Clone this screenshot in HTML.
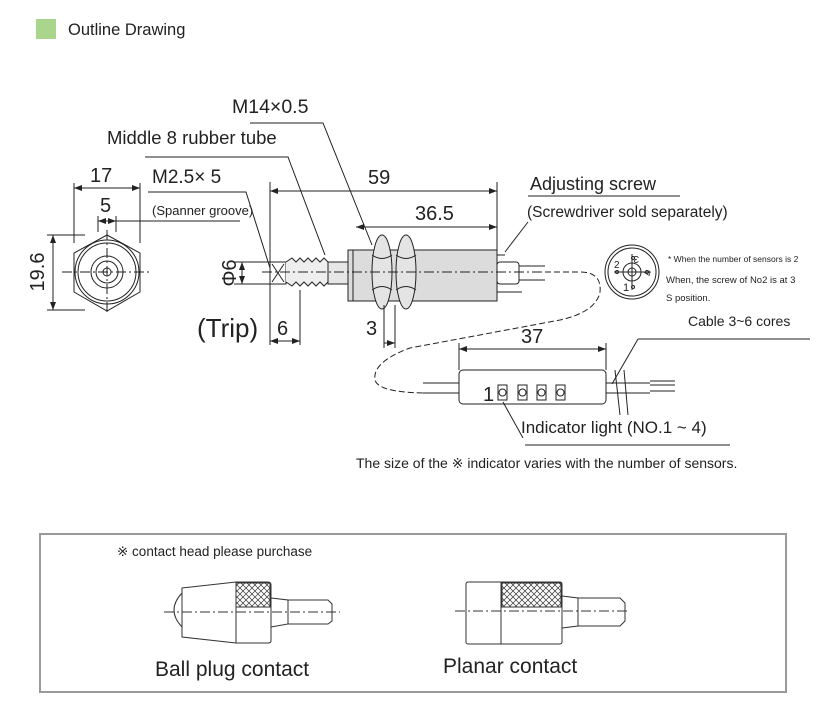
<!DOCTYPE html>
<html><head><meta charset="utf-8"><style>
html,body{margin:0;padding:0;background:#fff;}
svg{display:block;}
text{font-family:"Liberation Sans",sans-serif;fill:#222;}
</style></head><body>
<svg width="820" height="721" viewBox="0 0 820 721" xmlns="http://www.w3.org/2000/svg">
<defs>
<marker id="a" markerWidth="8" markerHeight="6" refX="8" refY="3" orient="auto-start-reverse"><path d="M0,0 L8,3 L0,6z" fill="#222"/></marker>
<pattern id="kn" width="6" height="6" patternUnits="userSpaceOnUse"><path d="M0,0L6,6M6,0L0,6" stroke="#333" stroke-width="0.7"/></pattern>
</defs>
<rect x="36" y="19" width="20" height="20" fill="#a9d68c"/>
<text x="68" y="35" font-size="16.5">Outline Drawing</text>

<g stroke="#222" stroke-width="1" fill="none">
<polyline points="250,123 323,123 372,245"/>
<polyline points="145,157 288,157 325,255"/>
<polyline points="148,192 246,192 270,268"/>
<line x1="112" y1="221" x2="240" y2="221"/>
<polyline points="528,196 680,196"/>
<line x1="528" y1="222" x2="505" y2="252"/>
<line x1="74" y1="183" x2="74" y2="243"/><line x1="140" y1="183" x2="140" y2="243"/>
<line x1="74" y1="188" x2="140" y2="188" marker-start="url(#a)" marker-end="url(#a)"/>
<line x1="98" y1="216" x2="98" y2="232"/><line x1="116" y1="216" x2="116" y2="232"/>
<line x1="98" y1="221" x2="116" y2="221" marker-start="url(#a)" marker-end="url(#a)"/>
<polygon points="107,235 140,253 140,292 107,311 74,292 74,253"/>
<circle cx="107" cy="272" r="32"/><circle cx="107" cy="272" r="29"/>
<circle cx="107" cy="272" r="16"/><circle cx="107" cy="272" r="11"/><circle cx="107" cy="272" r="4"/>
<line x1="62" y1="272" x2="152" y2="272" stroke-dasharray="10,3,2,3"/>
<line x1="107" y1="230" x2="107" y2="315" stroke-dasharray="10,3,2,3"/>
<line x1="47" y1="235" x2="85" y2="235"/><line x1="47" y1="310" x2="85" y2="310"/>
<line x1="53" y1="235" x2="53" y2="310" marker-start="url(#a)" marker-end="url(#a)"/>
<line x1="270" y1="182" x2="270" y2="345"/>
<line x1="497" y1="182" x2="497" y2="250"/>
<line x1="270" y1="191" x2="497" y2="191" marker-start="url(#a)" marker-end="url(#a)"/>
<line x1="356" y1="227" x2="497" y2="227" marker-start="url(#a)" marker-end="url(#a)"/>
<rect x="270" y="262" width="16" height="22"/>
<path d="M272,264 L284,282 M284,264 L272,282"/>
<path d="M286,262 L292,258 L296,262 L300,258 L304,262 L308,258 L312,262 L316,258 L320,262 L324,258 L328,262 L328,282 L324,286 L320,282 L316,286 L312,282 L308,286 L304,282 L300,286 L296,282 L292,286 L286,282" fill="#eee"/>
<rect x="328" y="262" width="20" height="22" fill="#e6e6e6"/>
<rect x="348" y="250" width="149" height="51" fill="#dcdcdc"/>
<line x1="353" y1="250" x2="353" y2="301"/>
<ellipse cx="382" cy="272" rx="10" ry="37" fill="#e4e4e4"/>
<ellipse cx="406" cy="272" rx="10" ry="37" fill="#e4e4e4"/>
<path d="M372,255 Q382,262 392,255 M372,290 Q382,283 392,290 M396,255 Q406,262 416,255 M396,290 Q406,283 416,290"/>
<rect x="497" y="262" width="22" height="22" rx="3" fill="#fff"/>
<line x1="497" y1="255" x2="505" y2="255"/><line x1="497" y1="292" x2="522" y2="292"/>
<line x1="519" y1="266" x2="545" y2="266"/><line x1="519" y1="280" x2="545" y2="280"/>
<line x1="262" y1="272" x2="545" y2="272" stroke-dasharray="10,3,2,3"/>
<line x1="234" y1="262" x2="270" y2="262"/><line x1="234" y1="284" x2="270" y2="284"/>
<line x1="242" y1="262" x2="242" y2="284" marker-start="url(#a)" marker-end="url(#a)"/>
<line x1="300" y1="290" x2="300" y2="345"/>
<line x1="270" y1="341" x2="300" y2="341" marker-start="url(#a)" marker-end="url(#a)"/>
<line x1="384" y1="305" x2="384" y2="348"/><line x1="395" y1="305" x2="395" y2="348"/>
<line x1="384" y1="343" x2="395" y2="343" marker-end="url(#a)"/>
<path d="M545,272 L580,272 Q602,272 600,292 Q596,312 560,320 L410,348 Q372,362 375,380 Q378,392 423,393" stroke-dasharray="6,3"/>
<circle cx="632" cy="272" r="27"/><circle cx="632" cy="272" r="24"/>
<circle cx="632" cy="272" r="9"/><circle cx="632" cy="272" r="4"/>
<line x1="632" y1="254" x2="632" y2="290"/><line x1="614" y1="272" x2="650" y2="272"/>
<circle cx="633" cy="258" r="1.5"/><circle cx="617" cy="272" r="1.5"/><circle cx="647" cy="272" r="1.5"/><circle cx="633" cy="287" r="1.5"/>
<polyline points="638,339 810,339"/>
<line x1="638" y1="339" x2="612" y2="384"/>
<line x1="459" y1="343" x2="459" y2="370"/><line x1="606" y1="343" x2="606" y2="370"/>
<line x1="459" y1="349" x2="606" y2="349" marker-start="url(#a)" marker-end="url(#a)"/>
<rect x="459" y="370" width="147" height="34" rx="4"/>
<line x1="423" y1="383" x2="459" y2="383"/><line x1="423" y1="393" x2="459" y2="393"/>
<line x1="606" y1="383" x2="650" y2="383"/><line x1="606" y1="393" x2="650" y2="393"/>
<line x1="650" y1="381" x2="675" y2="381"/><line x1="650" y1="385" x2="675" y2="385"/><line x1="650" y1="391" x2="675" y2="391"/>
<line x1="615" y1="370" x2="620" y2="415"/><line x1="624" y1="370" x2="628" y2="415"/>
<rect x="498" y="385" width="9" height="15"/><circle cx="502.5" cy="392.5" r="3.5"/>
<rect x="518" y="385" width="9" height="15"/><circle cx="522.5" cy="392.5" r="3.5"/>
<rect x="537" y="385" width="9" height="15"/><circle cx="541.5" cy="392.5" r="3.5"/>
<rect x="556" y="385" width="9" height="15"/><circle cx="560.5" cy="392.5" r="3.5"/>
<line x1="503" y1="402" x2="523" y2="438"/>
<line x1="525" y1="445" x2="730" y2="445"/>
</g>

<text x="232" y="113" font-size="19.5">M14×0.5</text>
<text x="107" y="144" font-size="18.5">Middle 8 rubber tube</text>
<text x="152" y="183" font-size="19">M2.5× 5</text>
<text x="152" y="215" font-size="13">(Spanner groove)</text>
<text x="90" y="182" font-size="20">17</text>
<text x="100" y="212" font-size="20">5</text>
<text x="44" y="272" font-size="20" transform="rotate(-90 44 272)" text-anchor="middle">19.6</text>
<text x="236" y="273" font-size="20" transform="rotate(-90 236 273)" text-anchor="middle">Φ6</text>
<text x="368" y="184" font-size="20">59</text>
<text x="415" y="220" font-size="20">36.5</text>
<text x="197" y="337" font-size="26">(Trip)</text>
<text x="277" y="335" font-size="20">6</text>
<text x="366" y="335" font-size="20">3</text>
<text x="530" y="190" font-size="18">Adjusting screw</text>
<text x="527" y="217" font-size="15.5">(Screwdriver sold separately)</text>
<text x="668" y="262" font-size="8.5">* When the number of sensors is 2</text>
<text x="666" y="283" font-size="9.5">When, the screw of No2 is at 3</text>
<text x="666" y="301" font-size="9.5">S position.</text>
<text x="629" y="262" font-size="10" transform="rotate(180 634 259)">3</text>
<text x="614" y="268" font-size="10">2</text>
<text x="623" y="291" font-size="11">1</text>
<text x="644" y="275" font-size="10" transform="rotate(-90 648 272)">4</text>
<text x="688" y="326" font-size="14">Cable 3~6 cores</text>
<text x="521" y="343" font-size="20">37</text>
<text x="483" y="401" font-size="20">1</text>
<text x="521" y="433" font-size="17">Indicator light (NO.1 ~ 4)</text>
<text x="356" y="468" font-size="14">The size of the ※ indicator varies with the number of sensors.</text>

<rect x="40" y="534" width="746" height="158" fill="none" stroke="#9a9a9a" stroke-width="2"/>
<text x="117" y="556" font-size="13.5">※ contact head please purchase</text>
<g stroke="#333" stroke-width="1" fill="none">
<path d="M182,593 Q166,610 182,627 Z"/>
<path d="M182,588 L236,582 L268,582 Q271,582 271,585 L271,641 Q271,643 268,643 L236,643 L182,637 Z"/>
<rect x="236" y="583" width="34" height="24" fill="url(#kn)"/>
<line x1="236" y1="582" x2="236" y2="643"/>
<path d="M271,598 L288,600 L288,624 L271,627"/>
<path d="M288,600 L328,600 L332,604 L332,621 L328,624 L288,624"/>
<line x1="164" y1="612" x2="340" y2="612" stroke-dasharray="10,3,2,3"/>
<rect x="466" y="582" width="96" height="62" rx="2"/>
<line x1="501" y1="582" x2="501" y2="644"/>
<rect x="502" y="583" width="59" height="24" fill="url(#kn)"/>
<path d="M562,596 L578,598 L578,626 L562,628"/>
<path d="M578,598 L620,598 L625,603 L625,621 L620,626 L578,626"/>
<line x1="455" y1="611" x2="630" y2="611" stroke-dasharray="10,3,2,3"/>
</g>
<text x="155" y="676" font-size="21">Ball plug contact</text>
<text x="443" y="673" font-size="21">Planar contact</text>
</svg>
</body></html>
